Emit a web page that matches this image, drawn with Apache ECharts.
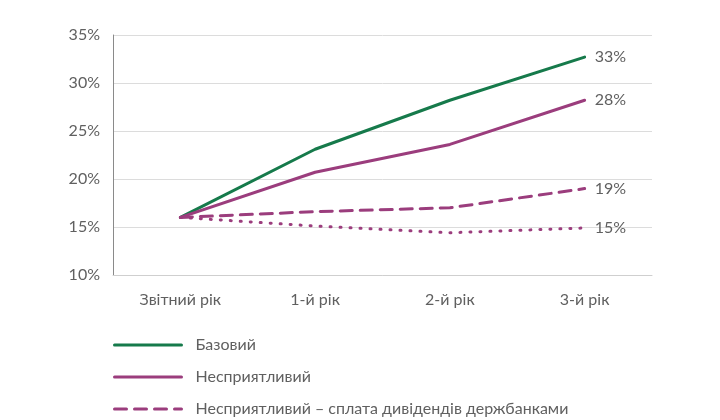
<!DOCTYPE html>
<html>
<head>
<meta charset="utf-8">
<script src="https://cdn.jsdelivr.net/npm/echarts@6/dist/echarts.min.js"></script>
<style>
  html, body { margin: 0; padding: 0; background: #fff; }
  #chart { width: 720px; height: 420px; }
</style>
</head>
<body>
<div id="chart"></div>
<script>
// categories and values
const categories = ['Звітний рік', '1-й рік', '2-й рік', '3-й рік'];
const baseline = [16.0, 23.1, 28.2, 32.7];
const adverse = [16.0, 20.7, 23.6, 28.2];
const adverseDividends = [16.0, 16.6, 17.0, 19.0];
const adverseOther = [16.0, 15.1, 14.4, 14.9];

const seriesNames = [
    'Базовий',
    'Несприятливий',
    'Несприятливий – сплата дивідендів держбанками',
    'Несприятливий – інше'
];

const green = '#167a4b';
const purple = '#9b3d7d';
const textColor = '#606060';
const font = 'Lato';

const chart = echarts.init(document.getElementById('chart'));

const endLabel = {
    show: true,
    color: textColor,
    fontFamily: font,
    fontSize: 16,
    distance: 10,
    formatter: p => Math.round(p.value) + '%'
};

function makeSeries(name, data, color, type) {
    return {
        name: name,
        type: 'line',
        data: data,
        showSymbol: false,
        symbol: 'none',
        animation: false,
        lineStyle: { color: color, width: 3, type: type, cap: 'round' },
        itemStyle: { color: color },
        endLabel: endLabel
    };
}

const option = {
    animation: false,
    grid: { left: 113, right: 68, top: 35, bottom: 145 },
    legend: {
        data: seriesNames.slice(0, 3),
        orient: 'vertical',
        left: 113,
        top: 337,
        height: 120,
        padding: 0,
        itemWidth: 67,
        itemHeight: 14,
        itemGap: 16,
        itemStyle: { opacity: 0 },
        lineStyle: { width: 3 },
        textStyle: { color: textColor, fontFamily: font, fontSize: 16, lineHeight: 16, padding: [0, 0, 0, 9] }
    },
    xAxis: {
        type: 'category',
        data: categories,
        boundaryGap: true,
        axisLine: { show: true, lineStyle: { color: '#cfcfcf' } },
        axisTick: { show: false },
        axisLabel: { color: textColor, fontFamily: font, fontSize: 16, margin: 17 }
    },
    yAxis: {
        type: 'value',
        min: 10,
        max: 35,
        interval: 5,
        axisLine: { show: true, lineStyle: { color: '#8a8a8a' } },
        axisTick: { show: false },
        axisLabel: { color: textColor, fontFamily: font, fontSize: 16, margin: 13, formatter: '{value}%' },
        splitLine: { lineStyle: { color: '#dcdcdc' } }
    },
    series: [
        makeSeries(seriesNames[0], baseline, green, 'solid'),
        makeSeries(seriesNames[1], adverse, purple, 'solid'),
        makeSeries(seriesNames[2], adverseDividends, purple, [12, 8]),
        makeSeries(seriesNames[3], adverseOther, purple, [1, 9])
    ]
};

chart.setOption(option);
</script>
</body>
</html>
